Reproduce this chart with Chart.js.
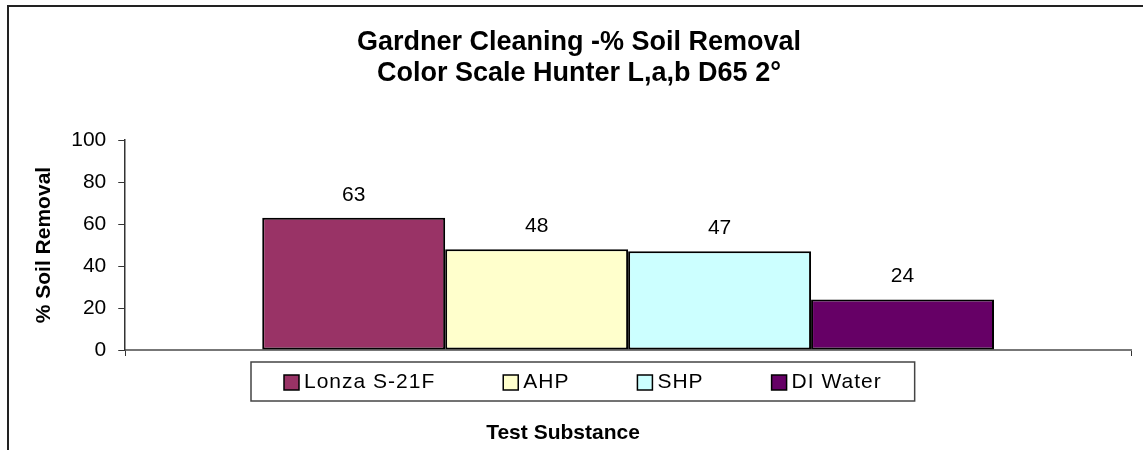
<!DOCTYPE html>
<html>
<head>
<meta charset="utf-8">
<script src="https://cdn.jsdelivr.net/npm/chart.js@4"></script>
<style>
  html, body { margin: 0; padding: 0; background: #fff; }
  #wrap { width: 1143px; height: 450px; }
</style>
</head>
<body>
<div id="wrap"><canvas id="myChart" width="1143" height="450"></canvas></div>
<script>
let substances = ['Lonza S-21F', 'AHP', 'SHP', 'DI Water'];
let soilRemoval = [63, 48, 47, 24];
let barColors = ['#993366', '#FFFFCC', '#CCFFFF', '#660066'];
let titleLines = ['Gardner Cleaning -% Soil Removal', 'Color Scale Hunter L,a,b D65 2°'];
let yTitle = '% Soil Removal';
let xTitle = 'Test Substance';

const FONT = '"Liberation Sans", Arial, sans-serif';

// white page and the half-open frame (top + left lines)
const framePlugin = {
    id: 'frame',
    beforeDraw(chart) {
        const ctx = chart.ctx;
        ctx.save();
        ctx.fillStyle = '#fff';
        ctx.fillRect(0, 0, chart.width, chart.height);
        ctx.strokeStyle = '#222';
        ctx.lineWidth = 2;
        ctx.beginPath();
        ctx.moveTo(8, chart.height);
        ctx.lineTo(8, 6);
        ctx.lineTo(chart.width, 6);
        ctx.stroke();
        ctx.restore();
    }
};

// value above each bar
const valuePlugin = {
    id: 'values',
    afterDatasetsDraw(chart) {
        const ctx = chart.ctx;
        ctx.save();
        ctx.font = '21px ' + FONT;
        ctx.fillStyle = '#000';
        ctx.textAlign = 'center';
        ctx.textBaseline = 'middle';
        chart.data.datasets.forEach((ds, i) => {
            chart.getDatasetMeta(i).data.forEach((bar, j) => {
                ctx.fillText(ds.data[j], bar.x, bar.y - 23);
            });
        });
        ctx.restore();
    }
};

// boxed legend under the axis, then the x axis title
const legendPlugin = {
    id: 'boxLegend',
    afterDraw(chart) {
        const ctx = chart.ctx;
        const top = chart.chartArea.bottom + 12;
        const h = 39;
        const left = 251;
        const gap = 68;
        const cy = top + h / 2 + 1;
        ctx.save();
        ctx.font = '21px ' + FONT;
        ctx.letterSpacing = '1px';
        let x = left + 33;
        const items = chart.data.datasets.map(ds => {
            const w = ctx.measureText(ds.label).width;
            const it = { x: x, label: ds.label, color: ds.backgroundColor };
            x = x + 20 + w + gap;
            return it;
        });
        const right = x - gap + 33;
        ctx.fillStyle = '#fff';
        ctx.fillRect(left, top, right - left, h);
        ctx.strokeStyle = '#444';
        ctx.lineWidth = 1.5;
        ctx.strokeRect(left, top, right - left, h);
        items.forEach(it => {
            ctx.fillStyle = it.color;
            ctx.fillRect(it.x, cy - 7.5, 15, 15);
            ctx.strokeStyle = '#000';
            ctx.lineWidth = 1.5;
            ctx.strokeRect(it.x, cy - 7.5, 15, 15);
            ctx.fillStyle = '#000';
            ctx.textAlign = 'left';
            ctx.textBaseline = 'middle';
            ctx.fillText(it.label, it.x + 20, cy);
        });
        ctx.letterSpacing = '0px';
        ctx.font = 'bold 21px ' + FONT;
        ctx.textAlign = 'center';
        ctx.fillText(xTitle, 563, 433);
        ctx.restore();
    }
};

let datasets = substances.map((name, i) => ({
    label: name,
    data: [soilRemoval[i]],
    backgroundColor: barColors[i],
    borderColor: '#000',
    borderWidth: 2,
    borderSkipped: false,
    categoryPercentage: 0.7276,
    barPercentage: 1
}));

let myChart = document.getElementById('myChart').getContext('2d');

let chart = new Chart(myChart, {
    type: 'bar',
    data: {
        labels: [''],
        datasets: datasets
    },
    plugins: [framePlugin, valuePlugin, legendPlugin],
    options: {
        responsive: false,
        animation: false,
        layout: {
            padding: { left: 27, right: 12, top: 0, bottom: 94 }
        },
        plugins: {
            legend: { display: false },
            tooltip: { enabled: false },
            title: {
                display: true,
                text: titleLines,
                color: '#000',
                font: { family: FONT, size: 27, weight: 'bold', lineHeight: 1.15 },
                padding: { top: 27, bottom: 51 }
            }
        },
        scales: {
            x: {
                grid: {
                    display: true,
                    drawOnChartArea: false,
                    drawTicks: true,
                    tickLength: 6,
                    color: '#333'
                },
                border: { display: true, color: '#777', width: 2 },
                ticks: { display: false }
            },
            y: {
                min: 0,
                max: 100,
                ticks: {
                    stepSize: 20,
                    color: '#000',
                    padding: 12,
                    font: { family: FONT, size: 21 }
                },
                grid: {
                    drawOnChartArea: false,
                    tickLength: 7,
                    color: '#333'
                },
                border: { display: true, color: '#333', width: 1.5 },
                title: {
                    display: true,
                    text: yTitle,
                    color: '#000',
                    font: { family: FONT, size: 21, weight: 'bold' },
                    padding: { top: 5, bottom: 2 }
                }
            }
        }
    }
});
</script>
</body>
</html>
